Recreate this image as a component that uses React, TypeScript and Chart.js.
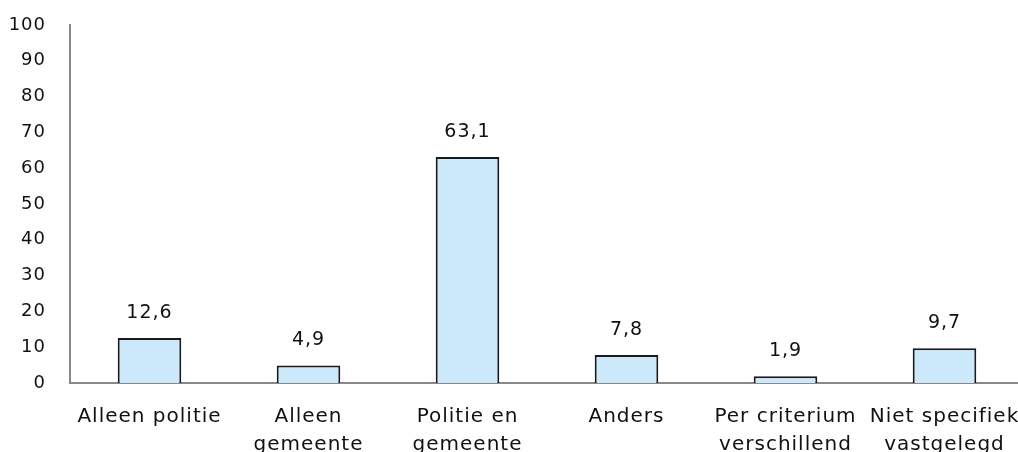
import React, { useEffect, useRef } from "react";
import { Chart, registerables } from "chart.js";

Chart.register(...registerables);

const categories: string[][] = [
  ["Alleen politie"],
  ["Alleen", "gemeente"],
  ["Politie en", "gemeente"],
  ["Anders"],
  ["Per criterium", "verschillend"],
  ["Niet specifiek", "vastgelegd"],
];
const values: number[] = [12.6, 4.9, 63.1, 7.8, 1.9, 9.7];
const yTicks: number[] = [0, 10, 20, 30, 40, 50, 60, 70, 80, 90, 100];

const FONT = "'DejaVu Sans', sans-serif";

const spacing = {
  id: "spacing",
  beforeUpdate(chart: any) {
    chart.ctx.letterSpacing = "1px";
  },
  beforeDraw(chart: any) {
    chart.ctx.letterSpacing = "1px";
  },
};

const valueLabels = {
  id: "valueLabels",
  afterDatasetsDraw(chart: any) {
    const ctx = chart.ctx;
    const meta = chart.getDatasetMeta(0);
    ctx.save();
    ctx.font = `19px ${FONT}`;
    ctx.fillStyle = "#111";
    ctx.textAlign = "center";
    ctx.textBaseline = "middle";
    meta.data.forEach((bar: any, i: number) => {
      const v = values[i];
      ctx.fillText(v.toFixed(1).replace(".", ","), bar.x, bar.y - 25);
    });
    ctx.restore();
  },
};

export default function App() {
  const ref = useRef<HTMLCanvasElement | null>(null);
  useEffect(() => {
    document.body.style.margin = "0";
    document.body.style.overflow = "hidden";
    const chart = new Chart(ref.current!, {
      type: "bar",
      data: {
        labels: categories,
        datasets: [
          {
            data: values,
            backgroundColor: "#cce9fb",
            borderColor: "#1a1a1a",
            borderWidth: 2,
            barPercentage: 0.4,
            categoryPercentage: 1,
          },
        ],
      },
      options: {
        animation: false,
        responsive: false,
        maintainAspectRatio: false,
        layout: { padding: { top: 25, left: 0, right: 0, bottom: 0 } },
        plugins: { legend: { display: false }, tooltip: { enabled: false } },
        scales: {
          x: {
            grid: { display: false, drawTicks: false },
            border: { color: "#888", width: 2 },
            ticks: {
              font: { family: FONT, size: 20, lineHeight: 1.4 },
              color: "#111",
              padding: 20,
              maxRotation: 0,
              autoSkip: false,
            },
            afterFit: (s: any) => {
              s.height = 87;
              s.paddingLeft = 0;
              s.paddingRight = 0;
            },
          },
          y: {
            min: 0,
            max: 100,
            afterBuildTicks: (s: any) => {
              s.ticks = yTicks.map((v) => ({ value: v }));
            },
            grid: { display: false, drawTicks: false },
            border: { color: "#888", width: 2 },
            ticks: {
              font: { family: FONT, size: 18 },
              color: "#111",
              padding: 24,
            },
            afterFit: (s: any) => {
              s.width = 70;
              s.paddingTop = 0;
              s.paddingBottom = 0;
            },
          },
        },
      },
      plugins: [spacing, valueLabels],
    });
    return () => chart.destroy();
  }, []);
  return (
    <div style={{ position: "fixed", left: 0, top: 0, width: 1018, height: 452, overflow: "hidden" }}>
      <canvas ref={ref} width={1024} height={470} style={{ display: "block" }} />
    </div>
  );
}
